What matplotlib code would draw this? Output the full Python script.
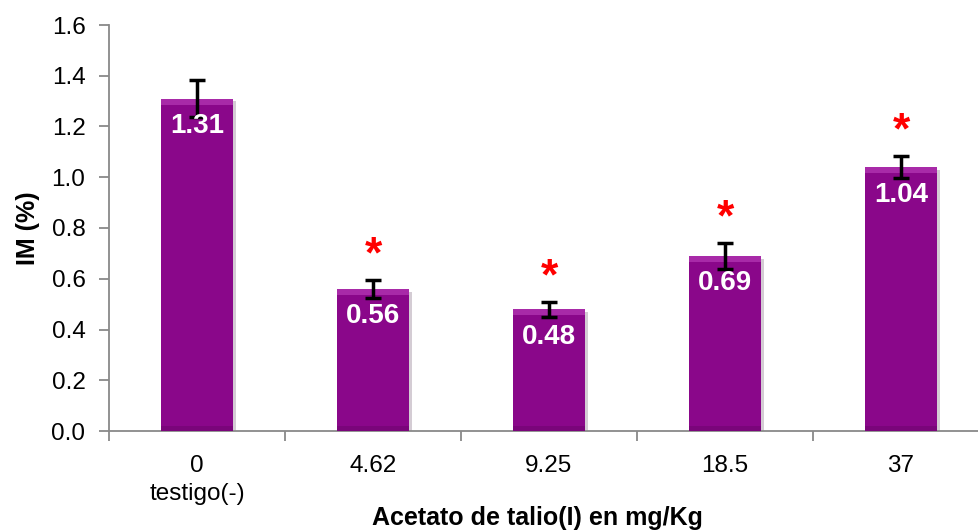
import matplotlib
matplotlib.use("Agg")
import matplotlib.pyplot as plt
import matplotlib.patheffects as pe
import numpy as np

plt.rcParams['font.family'] = ['Liberation Sans', 'DejaVu Sans']

categories = ["0\ntestigo(-)", "4.62", "9.25", "18.5", "37"]
values = [1.31, 0.56, 0.48, 0.69, 1.04]
errors = [0.074, 0.035, 0.03, 0.05, 0.043]
significant = [False, True, True, True, True]
value_labels = ["1.31", "0.56", "0.48", "0.69", "1.04"]

fig = plt.figure(figsize=(9.79, 5.31), dpi=100)
ax = fig.add_axes([109/979, 100/531, 880/979, 406/531])

x = np.arange(len(categories))
bw = 0.41
ax.bar(x, values, width=bw, color='#8A078A', zorder=2,
       path_effects=[pe.SimplePatchShadow(offset=(2, -2), alpha=0.2), pe.Normal()])
# bevel highlight on top
ax.bar(x, [0.024]*len(x), bottom=np.array(values)-0.024, width=bw, color='#A82AA8', zorder=3)
ax.bar(x, [0.018]*len(x), bottom=[0]*len(x), width=bw, color='#7A057A', zorder=3)

ax.errorbar(x, values, yerr=errors, fmt='none', ecolor='black', elinewidth=2.5,
            capsize=5.5, capthick=2.5, zorder=5)

for xi, v, lab in zip(x, values, value_labels):
    ax.text(xi, v - 0.108, lab, ha='center', va='center', color='white',
            fontsize=20, fontweight='bold', zorder=6)

for xi, v, e, s in zip(x, values, errors, significant):
    if s:
        ax.text(xi, v + e + 0.095, '*', ha='center', va='center', color='red',
                fontsize=32, fontweight='bold', zorder=6)

ax.set_xlim(-0.5, len(categories) - 0.5)
ax.set_ylim(0, 1.6)
ticks = np.arange(0, 1.61, 0.2)
ax.set_yticks(ticks)
ax.set_yticklabels([f"{t:.1f}" for t in ticks])
ax.set_xticks(x)
ax.set_xticklabels(categories)
ax.set_xticks(np.arange(-0.5, len(categories) + 0.5, 1), minor=True)

for lab in ax.get_xticklabels():
    lab.set_linespacing(1.4)
    lab.set_verticalalignment('top')

ax.tick_params(axis='x', which='major', length=0, pad=17, labelsize=17.5)
ax.tick_params(axis='x', which='minor', length=7, width=1.3, color='#898989', direction='out')
ax.tick_params(axis='y', length=7, width=1.3, color='#898989', direction='out', pad=10, labelsize=17.5)

for s in ['top', 'right']:
    ax.spines[s].set_visible(False)
for s in ['left', 'bottom']:
    ax.spines[s].set_color('#898989')
    ax.spines[s].set_linewidth(1.3)

ax.set_ylabel("IM (%)", fontsize=18, fontweight='bold', labelpad=8)
ax.set_xlabel("Acetato de talio(I) en mg/Kg", fontsize=18, fontweight='bold')
ax.xaxis.label.set_verticalalignment('center')
ax.xaxis.set_label_coords((537-109)/880, -(518-431)/406)

fig.savefig("out.png", dpi=100)
